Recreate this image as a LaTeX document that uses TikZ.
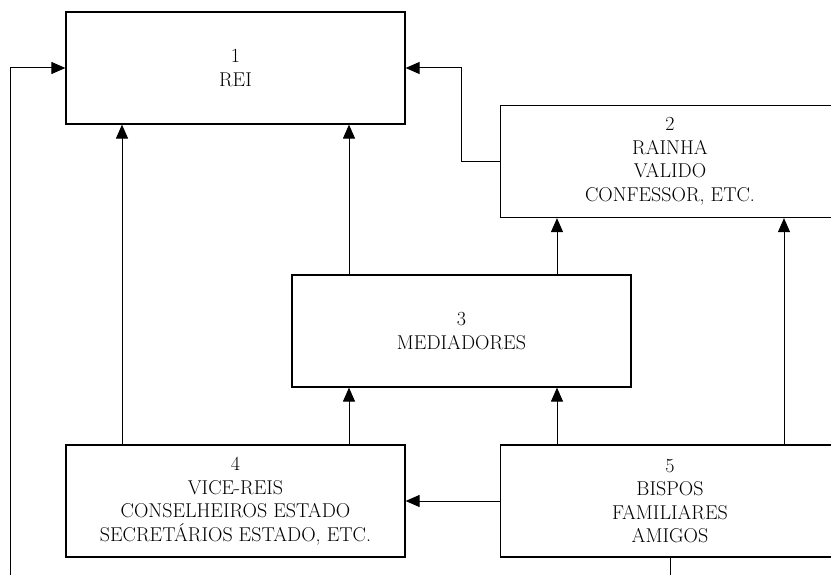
\documentclass[tikz,border=0pt]{standalone}
\usepackage{fontspec}
\usetikzlibrary{arrows.meta}
\begin{document}
\begin{tikzpicture}[x=1pt,y=-1pt,
  box/.style={draw,line width=1.2pt,minimum width=339pt,minimum height=112pt,align=center,inner sep=0pt,font=\fontsize{20}{23.5}\selectfont},
  arr/.style={line width=1pt,-{Triangle[length=14pt,width=12pt]}},
  ln/.style={line width=1pt}]
\clip (0,0) rectangle (831,575);
\node[box] (b1) at (235.5,68) {1\\REI};
\node[box] (b2) at (670,161.5) {2\\RAINHA\\VALIDO\\CONFESSOR, ETC.};
\node[box] (b3) at (461.5,331) {3\\MEDIADORES};
\node[box] (b4) at (235.5,501) {4\\VICE-REIS\\CONSELHEIROS ESTADO\\SECRETÁRIOS ESTADO, ETC.};
\node[box] (b5) at (670,501) {5\\BISPOS\\FAMILIARES\\AMIGOS};
\coordinate (lb) at (10,575);
\coordinate (bb) at (670,575);
\coordinate (xa) at (122,0);
\coordinate (xb) at (349,0);
\coordinate (xc) at (557,0);
\coordinate (xd) at (784,0);
\draw[arr] (lb) |- (b1.west);
\draw[arr] (b2.west) -- ++(-38,0) |- (b1.east);
\draw[arr] (b4.north -| xa) -- (b1.south -| xa);
\draw[arr] (b3.north -| xb) -- (b1.south -| xb);
\draw[arr] (b3.north -| xc) -- (b2.south -| xc);
\draw[arr] (b4.north -| xb) -- (b3.south -| xb);
\draw[arr] (b5.north -| xc) -- (b3.south -| xc);
\draw[arr] (b5.north -| xd) -- (b2.south -| xd);
\draw[arr] (b5.west) -- (b4.east);
\draw[ln] (b5.south) -- (bb);
\end{tikzpicture}
\end{document}
